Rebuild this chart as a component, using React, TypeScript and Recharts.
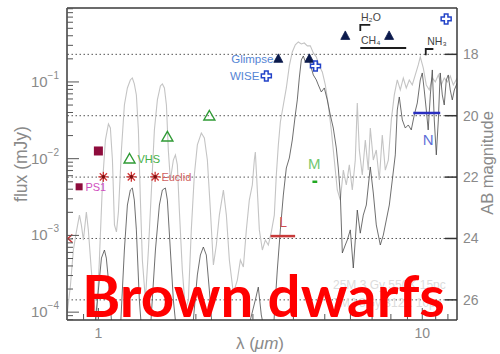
import React from 'react';
import { ComposedChart, Line, Scatter, XAxis, YAxis, ReferenceLine } from 'recharts';

// model spectrum 25 MJ, 3 Gyr, 550 K at 15 pc (light grey)
const warmLambda = [0.802, 0.82, 0.837, 0.855, 0.874, 0.886, 0.899, 0.918, 0.931, 0.951, 0.972, 0.986, 1.007, 1.029, 1.051, 1.074, 1.089, 1.105, 1.121, 1.137, 1.153, 1.178, 1.203, 1.229, 1.255, 1.273, 1.291, 1.31, 1.329, 1.348, 1.367, 1.397, 1.427, 1.458, 1.489, 1.521, 1.554, 1.576, 1.599, 1.622, 1.644, 1.668, 1.704, 1.729, 1.753, 1.778, 1.816, 1.856, 1.896, 1.936, 1.978, 2.021, 2.079, 2.124, 2.17, 2.217, 2.265, 2.313, 2.363, 2.432, 2.484, 2.537, 2.61, 2.685, 2.744, 2.803, 2.863, 2.924, 2.987, 3.03, 3.052, 3.073, 3.14, 3.208, 3.277, 3.347, 3.42, 3.493, 3.543, 3.594, 3.646, 3.724, 3.804, 3.886, 3.969, 4.055, 4.143, 4.232, 4.323, 4.417, 4.511, 4.609, 4.709, 4.809, 4.913, 5.019, 5.127, 5.237, 5.35, 5.465, 5.584, 5.705, 5.827, 5.953, 6.081, 6.211, 6.3, 6.391, 6.528, 6.67, 6.812, 6.911, 7.06, 7.211, 7.367, 7.525, 7.688, 7.855, 8.024, 8.196, 8.372, 8.553, 8.738, 8.925, 9.118, 9.314, 9.515, 9.72, 9.859, 10.07, 10.29, 10.51, 10.74, 10.97, 11.21, 11.44, 11.69, 11.95, 12.2, 12.47, 12.82];
const warmFlux = [1.0e-4, 2.26e-4, 6.45e-4, 1.11e-3, 1.84e-3, 1.37e-3, 8.7e-4, 2.02e-3, 1.18e-3, 3.54e-4, 1.24e-4, 6.8e-5, 4.78e-4, 4.54e-3, 0.0175, 0.0283, 0.0251, 0.0096, 1.37e-3, 1.11e-3, 2.02e-3, 0.013, 0.0501, 0.0835, 0.1062, 0.1127, 0.0942, 0.0677, 0.0237, 2.89e-3, 4.78e-4, 1.44e-4, 6.45e-4, 3.91e-3, 0.0237, 0.0583, 0.0887, 0.0942, 0.0835, 0.0501, 0.013, 5.28e-3, 9.6e-3, 0.0112, 8.3e-3, 2.14e-3, 3.54e-4, 1.07e-4, 1.44e-4, 1.18e-3, 6.13e-3, 0.0151, 0.0216, 0.0186, 9.6e-3, 2.14e-3, 4.11e-4, 7.5e-4, 1.84e-3, 3.91e-3, 1.84e-3, 4.78e-4, 1.77e-4, 2.62e-4, 4.78e-4, 3.87e-4, 1.18e-3, 2.89e-3, 4.54e-3, 9.6e-3, 0.0122, 7.1e-3, 1.18e-3, 6.45e-4, 8.7e-4, 7.5e-4, 1.11e-3, 1.84e-3, 6.13e-3, 0.0151, 0.0301, 0.0501, 0.0835, 0.1616, 0.246, 0.304, 0.332, 0.313, 0.322, 0.295, 0.295, 0.239, 0.212, 0.1616, 0.135, 0.0914, 0.0501, 0.0237, 9.6e-3, 3.91e-3, 2.89e-3, 7.1e-3, 4.54e-3, 8.3e-3, 3.91e-3, 9.6e-3, 0.0532, 0.013, 6.13e-3, 0.0175, 7.1e-3, 0.0251, 9.6e-3, 0.013, 5.28e-3, 0.0204, 7.1e-3, 9.6e-3, 0.032, 0.0677, 0.1062, 0.0787, 0.1127, 0.0835, 0.1062, 0.0914, 0.1234, 0.1666, 0.212, 0.1522, 0.0914, 0.0787, 0.1127, 0.1, 0.1234, 0.0914, 0.1127, 0.1, 0.1197, 0.0914, 0.1127];

// model spectrum 7 MJ, 3 Gyr, 312 K at 10 pc (dark grey)
const coldLambda = [0.802, 0.912, 0.979, 1.0, 1.022, 1.044, 1.058, 1.074, 1.097, 1.121, 1.169, 1.203, 1.229, 1.255, 1.273, 1.291, 1.31, 1.338, 1.367, 1.447, 1.5, 1.543, 1.576, 1.61, 1.633, 1.668, 1.704, 1.741, 1.856, 1.964, 2.021, 2.065, 2.109, 2.154, 2.201, 2.248, 2.466, 2.744, 2.945, 3.052, 3.117, 3.184, 3.3, 3.469, 3.568, 3.646, 3.724, 3.804, 3.886, 3.969, 4.055, 4.113, 4.172, 4.232, 4.293, 4.355, 4.417, 4.481, 4.544, 4.609, 4.709, 4.775, 4.878, 4.983, 5.09, 5.2, 5.312, 5.427, 5.504, 5.584, 5.665, 5.785, 5.868, 5.995, 6.124, 6.211, 6.3, 6.436, 6.575, 6.718, 6.911, 7.06, 7.211, 7.42, 7.58, 7.744, 7.911, 8.081, 8.254, 8.372, 8.492, 8.676, 8.862, 9.053, 9.248, 9.447, 9.652, 9.859, 10.0, 10.14, 10.29, 10.43, 10.59, 10.74, 10.89, 11.05, 11.21, 11.36, 11.53, 11.69, 11.86, 12.03, 12.2, 12.38, 12.56, 12.82];
const coldFlux = [4.3e-5, 5.8e-5, 7.9e-5, 1.94e-4, 5.07e-4, 6.45e-4, 5.07e-4, 2.62e-4, 7.9e-5, 4.3e-5, 5.8e-5, 6.45e-4, 2.49e-3, 3.91e-3, 4.15e-3, 2.89e-3, 1.18e-3, 1.44e-4, 4.3e-5, 5.8e-5, 6.45e-4, 2.49e-3, 3.91e-3, 4.15e-3, 2.89e-3, 6.45e-4, 1.44e-4, 5.8e-5, 4.3e-5, 7.9e-5, 3.05e-4, 5.55e-4, 7.06e-4, 5.55e-4, 1.94e-4, 5.8e-5, 4.3e-5, 5.0e-5, 7.9e-5, 1.44e-4, 2.12e-4, 9.2e-5, 4.3e-5, 5.8e-5, 3.54e-4, 1.18e-3, 3.36e-3, 7.56e-3, 0.0102, 0.0175, 0.0371, 0.0583, 0.1127, 0.1936, 0.218, 0.1823, 0.2055, 0.1936, 0.1522, 0.1234, 0.1062, 0.0914, 0.0741, 0.0835, 0.0583, 0.0371, 0.0251, 0.0138, 7.56e-3, 3.36e-3, 5.9e-4, 7.5e-4, 8.7e-4, 1.18e-3, 3.76e-4, 8.7e-4, 2.14e-3, 1.07e-3, 1.84e-3, 2.49e-3, 7.8e-3, 3.57e-3, 1.37e-3, 7.5e-4, 1.01e-3, 1.59e-3, 2.49e-3, 5.28e-3, 0.0112, 0.0431, 0.0637, 0.032, 0.0251, 0.0275, 0.0237, 0.0371, 0.0532, 0.1062, 0.131, 0.0787, 0.0431, 0.0237, 0.0677, 0.1434, 0.032, 0.0112, 0.032, 0.131, 0.0677, 0.0501, 0.1062, 0.1234, 0.0787, 0.0583, 0.0787, 0.097];

// photometric limits
const ps1Lambda = [0.872, 1.0];
const ps1Flux = [0.0043, 0.0126];
const euclidLambda = [1.036, 1.264, 1.497];
const euclidFlux = [0.0058, 0.0058, 0.0058];
const limitLambda = [0.802];
const limitFlux = [9.1e-4];
const vhsLambda = [1.248, 1.633, 2.201];
const vhsFlux = [0.0099, 0.0192, 0.036];
const glimpseLambda = [3.594, 4.48, 5.785, 7.9];
const glimpseFlux = [0.2, 0.2, 0.398, 0.398];
const wiseLambda = [3.3, 4.68, 11.85];
const wiseFlux = [0.12, 0.1616, 0.663];

// JWST-like bands
const lBand = { lambda: [3.4, 4.05], flux: [9.8e-4, 9.8e-4] };
const mBand = { lambda: [4.58, 4.74], flux: [0.005, 0.005] };
const nBand = { lambda: [9.38, 11.36], flux: [0.0394, 0.0394] };

// absorption bands
const h2oMark = { lambda: [6.436, 6.436, 6.91], flux: [0.462, 0.554, 0.554] };
const ch4Mark = { lambda: [6.436, 8.92], flux: [0.277, 0.277] };
const nh3Mark = { lambda: [10.25, 10.25, 10.82], flux: [0.2226, 0.269, 0.269] };

const labelText = ['Glimpse', 'WISE', 'VHS', 'Euclid', 'PS1', 'M', 'L', 'N', 'H₂O', 'CH₄', 'NH₃'];
const labelLambda = [3.47, 3.14, 1.32, 1.565, 0.912, 4.64, 3.72, 10.43, 6.47, 6.47, 10.36];
const labelFlux = [0.2, 0.12, 0.0099, 0.0058, 0.0043, 0.0085, 0.0015, 0.0175, 0.704, 0.353, 0.342];
const labelColor = ['#5585d5', '#5585d5', '#45b045', '#d06060', '#d050c0', '#70c870', '#d05050', '#6070d8', '#444', '#444', '#444'];
const labelAnchor = ['end', 'end', 'start', 'start', 'start', 'middle', 'middle', 'middle', 'start', 'start', 'start'];
const labelSize = [11.5, 11.5, 11, 11, 11, 15, 14, 15, 10.5, 10.5, 10.5];

const fluxMajor = [1e-4, 1e-3, 1e-2, 1e-1];
const fluxMinor = [8e-5, 9e-5];
const minorSteps = [2, 3, 4, 5, 6, 7, 8, 9];
const lambdaMajor = [1, 10];
const lambdaMinor = [0.9, 2, 3, 4, 5, 6, 7, 8, 9, 11, 12];
const abTicks = [18, 20, 22, 24, 26];

const F_MIN = 7.9e-5;
const F_MAX = 0.92;
const AB_ZERO = 16.4; // AB = 16.4 - 2.5 log10(F[mJy])

const fluxTicks = [...fluxMinor, ...fluxMajor.flatMap((m) => [m, ...minorSteps.map((s) => m * s)])].filter((v) => v <= F_MAX);
const lambdaTicks = [...lambdaMajor, ...lambdaMinor];

const toPts = (lam: number[], fl: number[], extra: any = {}) => lam.map((x, i) => ({ x, y: fl[i], ...extra }));

const warmData = toPts(warmLambda, warmFlux);
const coldData = toPts(coldLambda, coldFlux);
const labelData = labelText.map((t, i) => ({ x: labelLambda[i], y: labelFlux[i], t, c: labelColor[i], a: labelAnchor[i], s: labelSize[i] }));

const FRAME = '#3a3a3a';
const TXT = '#8a8a8a';

const isMajor = (v: number) => Math.abs(Math.log10(v) - Math.round(Math.log10(v))) < 1e-6;

const FluxTick = (p: any) => {
  const v = p.payload.value;
  const major = isMajor(v);
  const e = Math.round(Math.log10(v));
  return (
    <g>
      <line x1={p.x} x2={p.x + (major ? 12 : 6)} y1={p.y} y2={p.y} stroke="#555" strokeWidth={1} />
      {major && (
        <text x={p.x - 8} y={p.y + 5} textAnchor="end" fill={TXT} fontSize={15} fontFamily="Liberation Sans">
          10<tspan dy={-8} fontSize={10}>{'\u2212' + -e}</tspan>
        </text>
      )}
    </g>
  );
};

const LambdaTick = (p: any) => {
  const v = p.payload.value;
  const major = isMajor(v);
  return (
    <g>
      <line x1={p.x} x2={p.x} y1={p.y} y2={p.y - (major ? 12 : 6)} stroke="#555" strokeWidth={1} />
      {major && (
        <text x={p.x} y={p.y + 18} textAnchor="middle" fill={TXT} fontSize={14} fontFamily="Liberation Sans">{v}</text>
      )}
    </g>
  );
};

const AbTick = (p: any) => (
  <g>
    <line x1={p.x} x2={p.x - 12} y1={p.y} y2={p.y} stroke="#333" strokeWidth={1.5} />
    <text x={p.x + 6} y={p.y + 5} textAnchor="start" fill={TXT} fontSize={14} fontFamily="Liberation Sans">{p.payload.value}</text>
  </g>
);

const Square = ({ cx, cy, payload }: any) => {
  const s = payload.x < 0.95 ? 7 : 9;
  return <rect x={cx - s / 2} y={cy - s / 2} width={s} height={s} fill="#8e0c3c" />;
};

const Star = ({ cx, cy }: any) => (
  <g stroke="#d03535" strokeWidth={1.3}>
    <line x1={cx - 5} x2={cx + 5} y1={cy} y2={cy} />
    <line x1={cx} x2={cx} y1={cy - 5} y2={cy + 5} />
    <line x1={cx - 3.6} x2={cx + 3.6} y1={cy - 3.6} y2={cy + 3.6} />
    <line x1={cx - 3.6} x2={cx + 3.6} y1={cy + 3.6} y2={cy - 3.6} />
    <circle cx={cx} cy={cy} r={1.8} fill="#7a1010" stroke="none" />
  </g>
);

const Arrow = ({ cx, cy }: any) => (
  <path d={`M${cx + 5},${cy - 4} L${cx + 0.5},${cy} L${cx + 5},${cy + 4}`} fill="none" stroke="#d03535" strokeWidth={1.5} />
);

const OpenTri = ({ cx, cy }: any) => (
  <path d={`M${cx},${cy - 5.5} L${cx + 5.5},${cy + 4} L${cx - 5.5},${cy + 4} Z`} fill="none" stroke="#2f9a35" strokeWidth={1.4} />
);

const FilledTri = ({ cx, cy }: any) => (
  <path d={`M${cx},${cy - 5} L${cx + 4.5},${cy + 3.5} L${cx - 4.5},${cy + 3.5} Z`} fill="#0b1a4c" stroke="#0b1a4c" strokeWidth={0.8} />
);

const Cross = ({ cx, cy }: any) => {
  const a = 5, w = 1.8;
  const d = `M${cx - w},${cy - a} H${cx + w} V${cy - w} H${cx + a} V${cy + w} H${cx + w} V${cy + a} H${cx - w} V${cy + w} H${cx - a} V${cy - w} H${cx - w} Z`;
  return <path d={d} fill="#fff" stroke="#2343c8" strokeWidth={1.5} />;
};

const Label = ({ cx, cy, payload }: any) => (
  <text x={cx} y={cy + payload.s * 0.36} textAnchor={payload.a} fill={payload.c} fontSize={payload.s} fontFamily="Liberation Sans">
    {payload.t}
  </text>
);

export default function App() {
  const abDomain = [AB_ZERO - 2.5 * Math.log10(F_MAX), AB_ZERO - 2.5 * Math.log10(F_MIN)];
  const markLine = (d: { lambda: number[]; flux: number[] }, color: string, w: number, key: string) => (
    <Line key={key} data={toPts(d.lambda, d.flux)} dataKey="y" yAxisId="f" stroke={color} strokeWidth={w} dot={false} isAnimationActive={false} />
  );
  return (
    <div style={{ position: 'absolute', left: 0, top: 0, width: 500, height: 354, background: '#fff' }}>
      <ComposedChart width={500} height={354} margin={{ top: 8, right: 0, bottom: 0, left: 0 }}>
        <XAxis
          type="number"
          dataKey="x"
          scale="log"
          domain={[0.8, 12.8]}
          allowDataOverflow
          ticks={lambdaTicks}
          interval={0}
          tick={(p: any) => <LambdaTick {...p} />}
          tickLine={false}
          tickSize={0}
          tickMargin={0}
          axisLine={{ stroke: FRAME, strokeWidth: 1.5 }}
          height={34}
        />
        <YAxis
          yAxisId="f"
          type="number"
          dataKey="y"
          scale="log"
          domain={[F_MIN, F_MAX]}
          allowDataOverflow
          ticks={fluxTicks}
          interval={0}
          tick={(p: any) => <FluxTick {...p} />}
          tickLine={false}
          tickSize={0}
          tickMargin={0}
          axisLine={{ stroke: FRAME, strokeWidth: 1.5 }}
          width={67}
        />
        <YAxis
          yAxisId="ab"
          orientation="right"
          type="number"
          domain={abDomain}
          reversed
          allowDataOverflow
          ticks={abTicks}
          interval={0}
          tick={(p: any) => <AbTick {...p} />}
          tickLine={false}
          tickSize={0}
          tickMargin={0}
          axisLine={{ stroke: FRAME, strokeWidth: 1.5 }}
          width={43}
        />
        <ReferenceLine yAxisId="f" y={F_MAX} stroke={FRAME} strokeWidth={1.5} />
        {abTicks.map((m) => (
          <ReferenceLine key={m} yAxisId="ab" y={m} stroke="#555" strokeDasharray="1.5 2.5" strokeWidth={1} />
        ))}
        <Line data={warmData} dataKey="y" yAxisId="f" stroke="#c4c4c4" strokeWidth={1.1} dot={false} isAnimationActive={false} />
        <Line data={coldData} dataKey="y" yAxisId="f" stroke="#4a4a4a" strokeWidth={0.8} dot={false} isAnimationActive={false} />
        {markLine(lBand, '#c83a3a', 2.5, 'l')}
        {markLine(mBand, '#22a822', 2.5, 'm')}
        {markLine(nBand, '#2a2fc0', 2.5, 'n')}
        {markLine(h2oMark, '#1e1e1e', 1.8, 'h2o')}
        {markLine(ch4Mark, '#1e1e1e', 1.8, 'ch4')}
        {markLine(nh3Mark, '#1e1e1e', 1.8, 'nh3')}
        <Scatter yAxisId="f" data={toPts(ps1Lambda, ps1Flux)} shape={Square} isAnimationActive={false} />
        <Scatter yAxisId="f" data={toPts(euclidLambda, euclidFlux)} shape={Star} isAnimationActive={false} />
        <Scatter yAxisId="f" data={toPts(limitLambda, limitFlux)} shape={Arrow} isAnimationActive={false} />
        <Scatter yAxisId="f" data={toPts(vhsLambda, vhsFlux)} shape={OpenTri} isAnimationActive={false} />
        <Scatter yAxisId="f" data={toPts(glimpseLambda, glimpseFlux)} shape={FilledTri} isAnimationActive={false} />
        <Scatter yAxisId="f" data={toPts(wiseLambda, wiseFlux)} shape={Cross} isAnimationActive={false} />
        <Scatter yAxisId="f" data={labelData} shape={Label} isAnimationActive={false} />
      </ComposedChart>
      <svg width={500} height={354} style={{ position: 'absolute', left: 0, top: 0, pointerEvents: 'none' }}>
        <text x={333} y={289} fill="#dcdcdc" fontSize={12} fontFamily="Liberation Sans">25M  3 Gy  550K  15pc</text>
        <text x={333} y={307} fill="#dcdcdc" fontSize={12} fontFamily="Liberation Sans">7MJ  3Gy  312K  10pc</text>
        <text transform="translate(27,164) rotate(-90)" textAnchor="middle" fill={TXT} fontSize={17.5} fontFamily="Liberation Sans">flux (mJy)</text>
        <text transform="translate(493,163) rotate(-90)" textAnchor="middle" fill={TXT} fontSize={16.5} fontFamily="Liberation Sans">AB magnitude</text>
        <text x={260} y={349} textAnchor="middle" fill={TXT} fontSize={17} fontFamily="Liberation Sans">
          λ (<tspan fontStyle="italic">μm</tspan>)
        </text>
        <text x={82} y={317} fill="#ff0000" fontSize={58} fontWeight="bold" fontFamily="Lato" textLength={363} lengthAdjust="spacingAndGlyphs">
          Brown dwarfs
        </text>
      </svg>
    </div>
  );
}
